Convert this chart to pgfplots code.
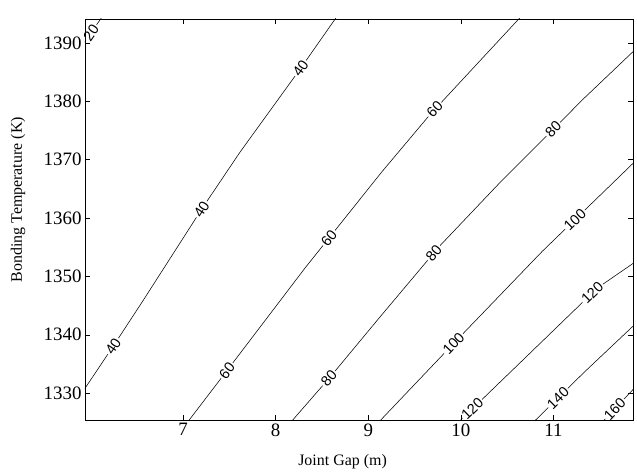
\documentclass[border=0pt]{standalone}
\usepackage{fontspec}
\setmainfont{Liberation Serif}
\newfontfamily\lbl{Liberation Sans}
\usepackage{pgfplots}
\pgfplotsset{compat=1.18}
\tikzset{clbl/.style={sloped, fill=white, draw=none, inner sep=1.5pt, text=black,
               font=\lbl\fontsize{14.5}{15}\selectfont}}

\begin{document}
\begin{tikzpicture}
\begin{axis}[
  name=ax,
  width=548bp, height=401bp, scale only axis,
  xmin=5.94, xmax=11.86, ymin=1325.4, ymax=1394.1,
  xtick={7,8,9,10,11}, ytick={1330,1340,...,1390},
  tick align=inside, major tick length=5bp,
  axis line style={line width=0.6pt},
  tick style={line width=0.5pt, black},
  /pgf/number format/assume math mode=true,
  /pgf/number format/1000 sep={},
  tick label style={font=\fontsize{19}{21}\selectfont},
  label style={font=\fontsize{16}{18}\selectfont},
  xlabel={Joint Gap (m)},
  ylabel={Bonding Temperature (K)},
  xlabel style={at={(rel axis cs:0.47,-0.1047)}, anchor=center},
  ylabel style={at={(rel axis cs:-0.1223,0.549)}, anchor=center},
  axis on top,
]
% contour 20
\addplot[black, line width=0.55pt] coordinates {(5.89,1389.1) (6.148,1395.0)}
  node[clbl, pos=0.45] {20};
% contour 40
\addplot[black, line width=0.55pt] coordinates {(5.922,1330.4) (6.245,1338.05) (6.569,1345.9)
  (7.216,1361.9) (7.615,1371.3) (8.272,1385.7) (8.660,1394.5)}
  node[clbl, pos=0.119] {40} node[clbl, pos=0.485] {40} node[clbl, pos=0.862] {40};
% contour 60
\addplot[black, line width=0.55pt] coordinates {(7.032,1324.7) (7.485,1334.1) (8.315,1351.4)
  (9.146,1367.9) (9.663,1377.65) (10.655,1394.6)}
  node[clbl, pos=0.131] {60} node[clbl, pos=0.456] {60} node[clbl, pos=0.771] {60};
% contour 80
\addplot[black, line width=0.55pt] coordinates {(8.154,1324.85) (8.585,1332.7) (9.124,1343.0)
  (9.771,1355.2) (10.418,1366.0) (11.043,1375.9) (11.31,1380.2) (11.88,1388.8)}
  node[clbl, pos=0.120] {80} node[clbl, pos=0.456] {80} node[clbl, pos=0.787] {80};
% contour 100
\addplot[black, line width=0.55pt] coordinates {(9.102,1324.85) (9.933,1338.7)
  (10.88,1354.3) (11.895,1369.9)}
  node[clbl, pos=0.303] {100} node[clbl, pos=0.774] {100};
% contour 120
\addplot[black, line width=0.55pt] coordinates {(9.954,1324.7) (10.633,1335.1)
  (11.474,1348.0) (11.895,1352.6)}
  node[clbl, pos=0.093] {120} node[clbl, pos=0.805] {120};
% contour 140
\addplot[black, line width=0.55pt] coordinates {(10.763,1324.7) (11.334,1333.6) (11.895,1342.0)}
  node[clbl, pos=0.258] {140};
% contour 160
\addplot[black, line width=0.55pt] coordinates {(11.507,1324.7) (11.895,1331.2)}
  node[clbl, pos=0.40] {160};
\node[font=\fontsize{16.5}{18}\selectfont, anchor=base west]
  at (rel axis cs:0.849,-0.125) {x 10\raisebox{1.1ex}{\fontsize{11}{12}\selectfont -5}};
\end{axis}
\path (ax.south west) ++(-85bp,-53bp) (ax.north east) ++(4bp,19bp);
\end{tikzpicture}
\end{document}
